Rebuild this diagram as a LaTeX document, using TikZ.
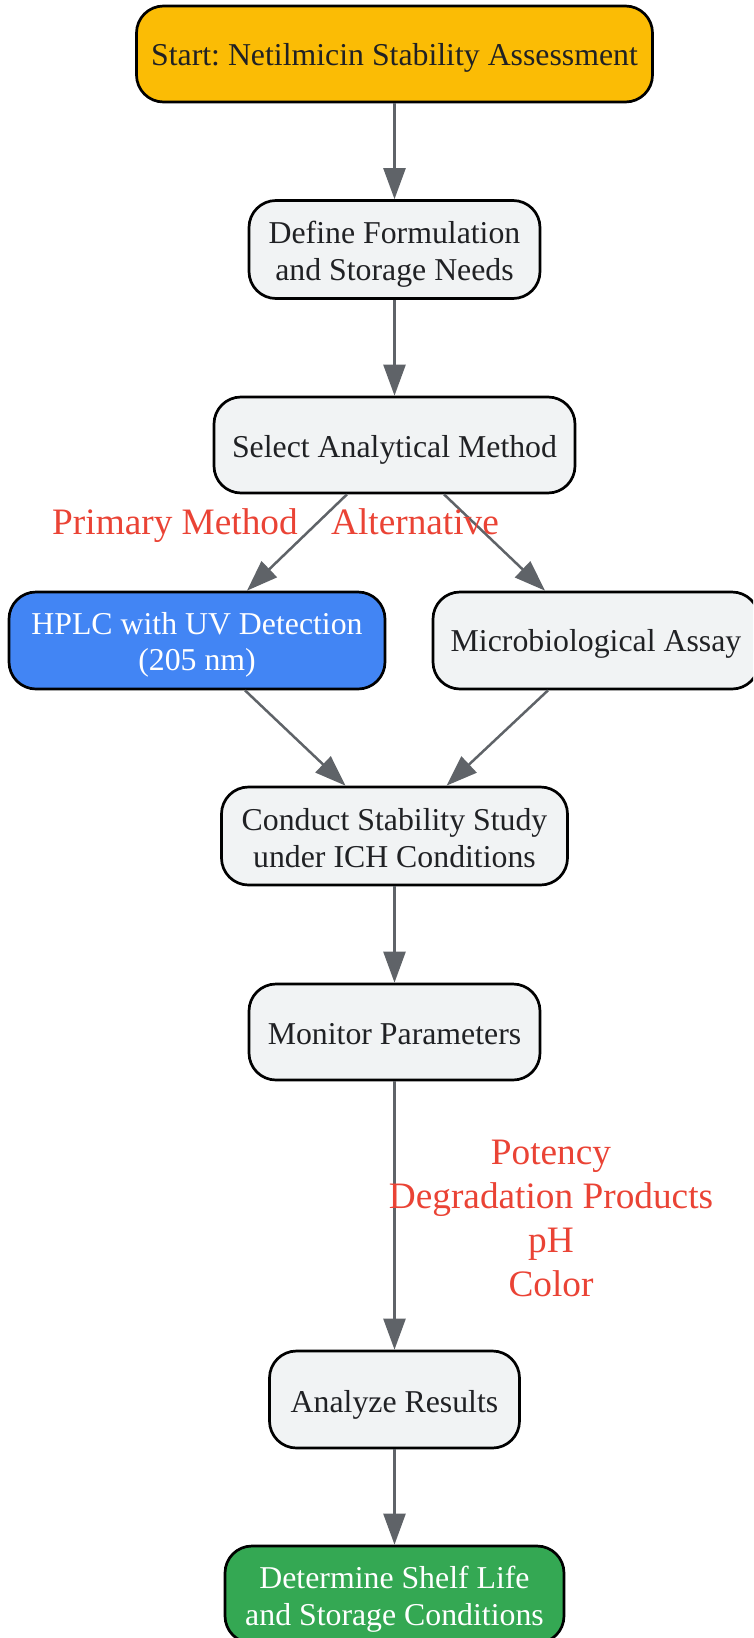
\documentclass[tikz,border=0pt]{standalone}
\usepackage{fontspec}
\setmainfont{Liberation Serif}
\frenchspacing
\usetikzlibrary{arrows.meta,calc}
\definecolor{cyel}{HTML}{FBBC05}
\definecolor{cblue}{HTML}{4285F4}
\definecolor{cgreen}{HTML}{34A853}
\definecolor{cgrey}{HTML}{F1F3F4}
\definecolor{ctext}{HTML}{202124}
\definecolor{carrow}{HTML}{5F6368}
\definecolor{cred}{HTML}{EA4335}
\newcommand\tstrut[1][32]{\rule{0pt}{#1pt}}
\tikzset{
  box/.style={draw=black, line width=2.7pt, rounded corners=27pt, fill=cgrey,
    text=ctext, align=center, minimum height=97pt, inner sep=0pt,
    font=\fontsize{31.8}{36.6}\selectfont\frenchspacing},
  conn/.style={draw=carrow, line width=2.5pt, -{Triangle[length=31pt,width=22pt]}},
  lbl/.style={text=cred, align=center, inner sep=0pt,
    font=\fontsize{37.3}{44}\selectfont}
}
\begin{document}
\begin{tikzpicture}[x=1pt,y=1pt]
\useasboundingbox (0,0) rectangle (753,-1638);
\clip (0,0) rectangle (753,-1638);
\node[box, fill=cyel, minimum width=516pt, minimum height=96pt] (start) at (394.5,-54) {\tstrut[30]Start: Netilmicin Stability Assessment};
\node[box, minimum width=291pt, minimum height=98pt] (define) at (394.5,-249.5) {\tstrut[32]Define Formulation\\and Storage Needs};
\node[box, minimum width=361pt, minimum height=96pt] (select) at (394.5,-445) {\tstrut[32]Select Analytical Method};
\node[box, fill=cblue, text=white, minimum width=376pt] (hplc) at (197,-640.5) {\tstrut[31]HPLC with UV Detection\\(205 nm)};
\node[box, minimum width=326pt] (micro) at (596,-640.5) {\tstrut[28]Microbiological Assay};
\node[box, minimum width=346pt, minimum height=98pt] (conduct) at (394.5,-836) {\tstrut[26]Conduct Stability Study\\under ICH Conditions};
\node[box, minimum width=291pt, minimum height=96pt] (monitor) at (394.5,-1032) {\tstrut[26]Monitor Parameters};
\node[box, minimum width=250pt] (analyze) at (394.5,-1399.5) {\tstrut[32]Analyze Results};
\node[box, fill=cgreen, text=white, minimum width=339pt] (determine) at (394.5,-1594.5) {\tstrut[32]Determine Shelf Life\\and Storage Conditions};

\draw[conn] (start) -- (define);
\draw[conn] (define) -- (select);
\draw[conn] ($(select.south)+(-47.5,0)$) -- ($(hplc.north)+(50,0)$);
\draw[conn] ($(select.south)+(49.5,0)$) -- ($(micro.north)+(-51,0)$);
\draw[conn] ($(hplc.south)+(48,0)$) -- ($(conduct.north)+(-49,0)$);
\draw[conn] ($(micro.south)+(-48,0)$) -- ($(conduct.north)+(52,0)$);
\draw[conn] (conduct) -- (monitor);
\draw[conn] (monitor) -- (analyze);
\draw[conn] (analyze) -- (determine);

\node[lbl, anchor=base] (lprim) at (175,-534.7) {Primary Method};
\node[lbl, anchor=base] (lalt) at (415,-534.7) {Alternative};
\node[lbl] (lmon) at (551,-1218) {Potency\\Degradation Products\\pH\\Color};
\end{tikzpicture}
\end{document}
